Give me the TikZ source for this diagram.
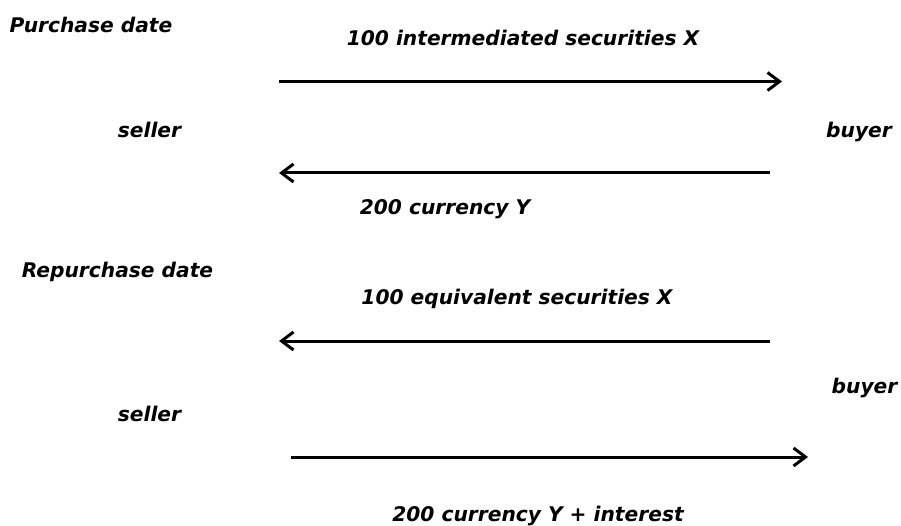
\documentclass[tikz,border=0pt]{standalone}
\usepackage{fontspec}
\setmainfont{DejaVu Sans}
\usetikzlibrary{arrows.meta}
\tikzset{
  lbl/.style={anchor=base, inner sep=0pt, font=\fontsize{20.2}{24}\selectfont\bfseries\itshape},
  flow/.style={line width=3pt, -{Straight Barb[length=12pt,width=18pt,line width=3pt]}}
}
\begin{document}
\begin{tikzpicture}[x=1pt,y=-1pt]
\useasboundingbox (0,0) rectangle (901,526);
\node[lbl] (pd) at (91,32.5) {Purchase date};
\node[lbl] (t1) at (523,46) {100 intermediated securities X};
\node[lbl] (s1) at (149.5,138) {seller};
\node[lbl] (b1) at (859,138) {buyer};
\node[lbl] (t2) at (445,215) {200 currency Y};
\node[lbl] (rd) at (117.5,278) {Repurchase date};
\node[lbl] (t3) at (517,305) {100 equivalent securities X};
\node[lbl] (b2) at (864.5,393) {buyer};
\node[lbl] (s2) at (149.5,421) {seller};
\node[lbl] (t4) at (538,521) {200 currency Y + interest};
\coordinate (a1s) at (279,81.5);
\coordinate (a1e) at (782,81.5);
\coordinate (a2s) at (770,173);
\coordinate (a2e) at (279,173);
\coordinate (a3s) at (770,341);
\coordinate (a3e) at (279,341);
\coordinate (a4s) at (291,457);
\coordinate (a4e) at (808,457);
\draw[flow] (a1s) -- (a1e);
\draw[flow] (a2s) -- (a2e);
\draw[flow] (a3s) -- (a3e);
\draw[flow] (a4s) -- (a4e);
\end{tikzpicture}
\end{document}
